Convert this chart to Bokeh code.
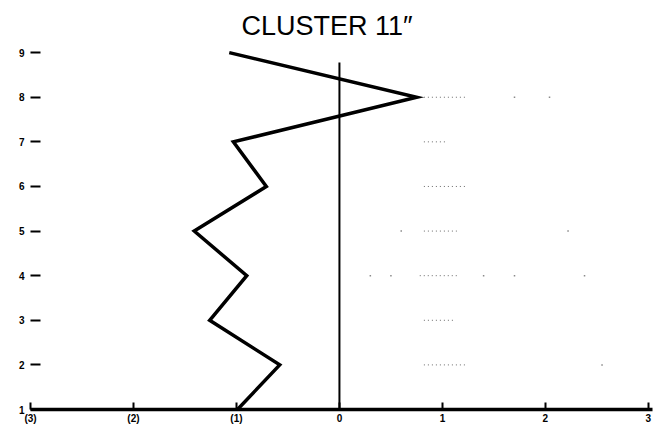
from bokeh.plotting import figure
from bokeh.models import Range1d, FixedTicker
from bokeh.embed import file_html
from bokeh.resources import INLINE

# Profile of cluster 11: score per attribute row
rows = [9, 8, 7, 6, 5, 4, 3, 2, 1]
scores = [-1.07, 0.75, -1.03, -0.71, -1.41, -0.90, -1.26, -0.58, -0.99]

# Faint dotted reference marks on the right side
dot_rows = [8, 7, 6, 5, 4, 3, 2]
dot_start = [0.82, 0.82, 0.82, 0.82, 0.78, 0.82, 0.82]
dot_end = [1.23, 1.04, 1.23, 1.14, 1.14, 1.12, 1.22]
speck_x = [1.70, 2.04, 0.60, 2.22, 0.30, 0.50, 1.40, 1.70, 2.38, 2.55]
speck_y = [8, 8, 5, 5, 4, 4, 4, 4, 4, 2]

x_ticks = [-3, -2, -1, 0, 1, 2, 3]
x_labels = ["(3)", "(2)", "(1)", "0", "1", "2", "3"]
y_ticks = [1, 2, 3, 4, 5, 6, 7, 8, 9]

p = figure(width=654, height=438, output_backend="svg", toolbar_location=None,
           x_range=Range1d(-3, 3.04), y_range=Range1d(1, 9.16),
           min_border_left=30, min_border_right=2, min_border_top=45,
           min_border_bottom=29)
p.outline_line_color = None
p.xgrid.visible = False
p.ygrid.visible = False
p.background_fill_color = "white"
p.border_fill_color = "white"

p.title.text = "CLUSTER 11\u2033"
p.title.text_font = "Liberation Sans"
p.title.text_font_size = "27px"
p.title.text_font_style = "normal"
p.title.align = "left"
p.title.offset = 211
p.title.text_color = "black"

xa = p.xaxis[0]
xa.ticker = FixedTicker(ticks=x_ticks)
xa.major_label_overrides = {t: l for t, l in zip(x_ticks, x_labels)}
xa.axis_line_width = 3.5
xa.axis_line_color = "black"
xa.major_tick_in = 7
xa.major_tick_out = 0
xa.major_tick_line_width = 2
xa.minor_tick_line_color = None
xa.major_label_standoff = 3
xa.major_label_text_font = "Liberation Sans"
xa.major_label_text_font_style = "bold"
xa.major_label_text_font_size = "10px"
xa.major_label_text_color = "black"

ya = p.yaxis[0]
ya.ticker = FixedTicker(ticks=y_ticks)
ya.axis_line_color = None
ya.major_tick_in = 10
ya.major_tick_out = 0
ya.major_tick_line_width = 2
ya.minor_tick_line_color = None
ya.major_label_standoff = 6
ya.major_label_text_font = "Liberation Sans"
ya.major_label_text_font_style = "bold"
ya.major_label_text_font_size = "10px"
ya.major_label_text_color = "black"

# zero reference line
p.segment(x0=[0], y0=[1], x1=[0], y1=[8.78], line_color="black", line_width=2)

# faint dotted marks
p.segment(x0=dot_start, y0=dot_rows, x1=dot_end, y1=dot_rows,
          line_color="#6a6a6a", line_width=1, line_dash="1 3")
p.scatter(x=speck_x, y=speck_y, marker="square", size=1.5,
          fill_color="#8a8a8a", line_color=None)

# cluster profile
p.line(x=scores, y=rows, line_color="black", line_width=3.5, line_join="miter")

open("out.html", "w").write(file_html(p, INLINE))
